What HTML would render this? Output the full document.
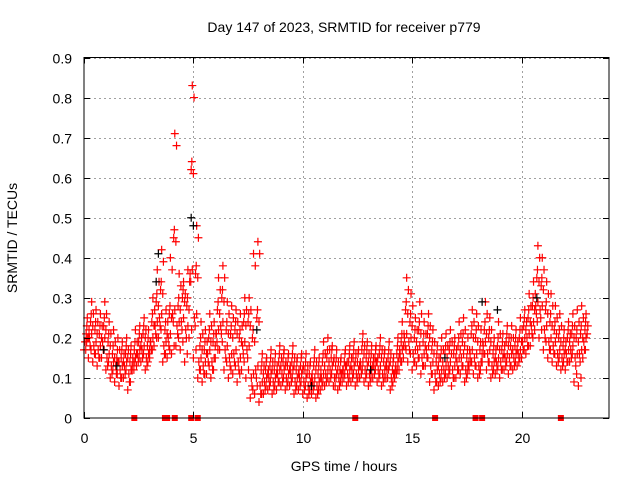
<!DOCTYPE html>
<html><head><meta charset="utf-8"><style>
body{margin:0;background:#fff}
svg{display:block;font-family:"Liberation Sans",sans-serif}
</style></head><body>
<svg id="c" width="640" height="480" viewBox="0 0 640 480">
<rect width="640" height="480" fill="#fff"/>
<g id="grid"></g>
<g id="pts"></g>
<rect x="84" y="57.5" width="525" height="360.5" fill="none" stroke="#000" stroke-width="1"/>
<g id="axes" font-size="14" fill="#000"></g>
<text x="344" y="32" text-anchor="middle" font-size="14">Day 147 of 2023, SRMTID for receiver p779</text>
<text x="344" y="471" text-anchor="middle" font-size="14">GPS time / hours</text>
<text transform="translate(17,238) rotate(-90)" text-anchor="middle" font-size="14">SRMTID / TECUs</text>
</svg>
<script>
const xTicks=[0,5,10,15,20];
const yTicks=[0,0.1,0.2,0.3,0.4,0.5,0.6,0.7,0.8,0.9];
const yTickLabels=["0","0.1","0.2","0.3","0.4","0.5","0.6","0.7","0.8","0.9"];
const t0=0, tStep=0.2;
const lo=[17,15,14,13,15,12,10,9,8,10,7,12,13,14,12,15,18,20,14,15,16,18,17,14,20,15,10,9,11,10,15,17,12,10,11,9,12,10,5,6,4,6,7,6,7,8,7,8,6,7,6,5,6,5,7,8,9,8,7,9,8,9,8,10,9,8,10,9,8,10,7,10,12,15,14,12,13,11,13,9,7,8,9,10,8,10,11,9,12,11,10,14,12,10,11,10,12,11,12,13,15,16,18,22,20,17,15,14,13,12,12,14,9,8,15];
const m1=[19,20,18,17,19,15,13,13,12,13,11,14,16,17,15,19,23,25,18,20,26,23,24,22,36,25,14,13,16,14,21,23,17,15,16,14,18,17,10,12,8,9,10,9,11,11,10,11,9,10,9,8,9,8,10,11,12,10,10,12,11,12,11,13,12,11,13,12,11,12,10,13,16,20,19,16,17,15,17,13,11,11,12,13,12,14,15,12,16,15,13,18,16,13,14,14,15,15,15,16,19,20,23,28,27,22,19,18,16,15,16,17,15,16,19];
const m2=[21,24,22,21,23,19,16,15,15,16,14,17,19,21,18,24,29,32,22,26,45,28,30,28,62,36,18,17,20,19,27,30,22,21,22,20,24,24,20,25,12,12,13,12,14,14,13,14,12,13,12,11,13,11,14,15,15,13,12,14,14,15,14,17,15,14,15,16,14,15,12,16,19,27,24,20,22,19,21,17,14,15,16,17,16,18,19,15,21,20,17,22,20,16,18,17,19,18,18,20,23,25,28,35,33,27,24,22,20,18,20,21,20,21,22];
const hi=[25,29,27,26,29,24,22,20,19,20,18,22,23,25,22,30,37,42,27,40,71,36,34,37,83,48,24,22,26,24,35,38,29,28,27,26,30,30,41,44,16,15,17,16,18,17,16,18,15,16,16,14,17,15,19,20,18,17,15,17,18,19,17,21,19,18,18,20,17,19,15,20,24,35,31,25,29,24,26,22,18,20,21,22,20,24,25,20,27,26,22,29,25,20,24,21,23,23,22,25,27,31,34,43,40,34,31,28,26,22,24,26,27,28,26];
const blackT=[0.9,1.5,3.3,3.4,4.9,5.0,7.9,10.4,13.1,16.5,18.2,18.9,20.7];
const blackV=[0.17,0.13,0.34,0.41,0.50,0.48,0.22,0.08,0.12,0.15,0.29,0.27,0.30];
const gapT=[2.3,3.7,3.8,4.15,4.9,5.2,12.4,16.05,17.9,18.2,21.8];
const X0=84,X1=609,Y0=418,Y1=57.5,XMAX=24,YMAX=0.9;
const sx=t=>X0+(t/XMAX)*(X1-X0);
const sy=v=>Y0-(v/YMAX)*(Y0-Y1);
const NS="http://www.w3.org/2000/svg";
function mk(tag,attrs,parent){const e=document.createElementNS(NS,tag);for(const k in attrs)e.setAttribute(k,attrs[k]);parent.appendChild(e);return e;}
const grid=document.getElementById('grid'),axes=document.getElementById('axes'),pts=document.getElementById('pts');
xTicks.forEach(t=>{
  const x=Math.round(sx(t))+0.5;
  if(t>0){const g=mk('line',{x1:x,x2:x,y1:Y0,y2:Y1,stroke:'#a0a0a0','stroke-dasharray':'2,3'},grid);
  
  }
  const tk=mk('path',{d:`M${x},${Y0}v-6M${x},${Y1}v6`,stroke:'#000'},axes);
  
  
  const l=mk('text',{x:x,y:Y0+25,'text-anchor':'middle'},axes);l.textContent=t;
  
  
});
yTicks.forEach((v,i)=>{
  const y=Math.round(sy(v))+0.5;
  if(v>0){const g=mk('line',{x1:X0,x2:X1,y1:y,y2:y,stroke:'#a0a0a0','stroke-dasharray':'2,3'},grid);
  
  }
  const tk=mk('path',{d:`M${X0},${y}h6M${X1},${y}h-6`,stroke:'#000'},axes);
  
  
  const l=mk('text',{x:X0-12,y:y+5,'text-anchor':'end'},axes);l.textContent=yTickLabels[i];
  
  
});
function plus(x,y,col,name){
  const p=mk('path',{d:`M${x-4},${y}h8M${x},${y-4}v8`,stroke:col,'stroke-width':1.2},pts);
  
  
}
const series=[lo,m1,m2,hi];
series.forEach((arr,k)=>{
  arr.forEach((v,i)=>{
    const t=t0+i*tStep+k*0.05;
    plus(sx(t),sy(v/100),'#ff0000','srmtid-point');
    if(k===1||k===2){
      plus(sx(t+0.1),sy((v+(k===1?1:-1))/100),'#ff0000','srmtid-point');
      plus(sx(t+0.03),sy((v+(k===1?-2:2))/100),'#ff0000','srmtid-point');
    }
    if(k===0) plus(sx(t+0.12),sy((v+2)/100),'#ff0000','srmtid-point');
    if(k===3) plus(sx(t+0.08),sy((v-3)/100),'#ff0000','srmtid-point');
  });
});
blackT.forEach((t,i)=>plus(sx(t),sy(blackV[i]),'#000','srmtid-point-black'));
gapT.forEach(t=>{
  const r=mk('rect',{x:sx(t)-3,y:Y0-3,width:6,height:6,fill:'#ff0000'},pts);
  
  
});
</script>
</body></html>
